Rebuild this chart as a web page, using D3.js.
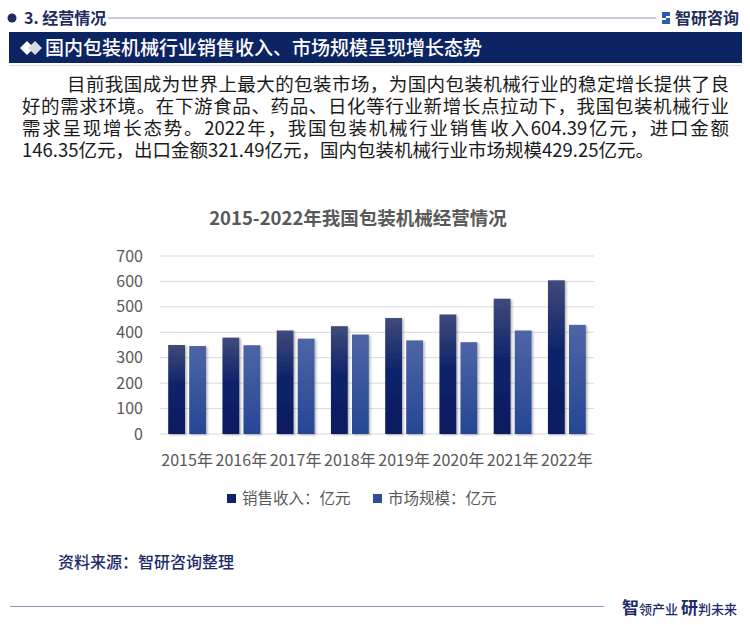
<!DOCTYPE html>
<html>
<head>
<meta charset="utf-8">
<script src="https://cdn.jsdelivr.net/npm/d3@7"></script>
<style>
  body { margin: 0; background: #fff; position: relative; }
  svg { display: block; font-family: "Noto Sans CJK SC", "Noto Sans", sans-serif; }
  #para { position: absolute; left: 22px; top: 72px; width: 707px;
    font-family: "Noto Sans CJK SC", sans-serif; font-size: 18.5px; line-height: 22px; color: #1a1a1a; }
  #para div { white-space: nowrap; height: 22px; }
  #para div.just { text-align: justify; text-align-last: justify; white-space: normal; }
</style>
</head>
<body>
<svg id="chart"></svg>
<div id="para"></div>
<script>
var years = ["2015年", "2016年", "2017年", "2018年", "2019年", "2020年", "2021年", "2022年"];
var sales = [350, 379, 407, 424, 456, 470, 532, 604.39];
var market = [346, 349, 375, 391, 368, 361, 407, 429.25];
var seriesNames = ["销售收入：亿元", "市场规模：亿元"];
var yTicks = [0, 100, 200, 300, 400, 500, 600, 700];
var paragraph = [
  "目前我国成为世界上最大的包装市场，为国内包装机械行业的稳定增长提供了良",
  "好的需求环境。在下游食品、药品、日化等行业新增长点拉动下，我国包装机械行业",
  "需求呈现增长态势。2022年，我国包装机械行业销售收入604.39亿元，进口金额",
  "146.35亿元，出口金额321.49亿元，国内包装机械行业市场规模429.25亿元。"
];

var width = 750,
  height = 625;

var svg = d3.select("#chart")
  .attr("width", width)
  .attr("height", height);

var defs = svg.append("defs");
var g1 = defs.append("linearGradient").attr("id", "gDark")
  .attr("x1", 0).attr("y1", 0).attr("x2", 0).attr("y2", 1);
g1.append("stop").attr("offset", "0%").attr("stop-color", "#404a7b");
g1.append("stop").attr("offset", "45%").attr("stop-color", "#0f246a");
g1.append("stop").attr("offset", "100%").attr("stop-color", "#0a1a5f");
var g2 = defs.append("linearGradient").attr("id", "gLight")
  .attr("x1", 0).attr("y1", 0).attr("x2", 0).attr("y2", 1);
g2.append("stop").attr("offset", "0%").attr("stop-color", "#4d65a6");
g2.append("stop").attr("offset", "100%").attr("stop-color", "#264694");
defs.append("filter").attr("id", "shadow")
  .attr("x", "-20%").attr("y", "-5%").attr("width", "150%").attr("height", "115%")
  .append("feDropShadow")
  .attr("dx", 1.5).attr("dy", 1).attr("stdDeviation", 1.2)
  .attr("flood-color", "#000").attr("flood-opacity", 0.3);

svg.append("rect").attr("width", width).attr("height", height).attr("fill", "#fff");

// header
svg.append("circle").attr("cx", 12).attr("cy", 18).attr("r", 4.5).attr("fill", "#1d2b5e");
svg.append("text").attr("x", 24).attr("y", 24).attr("font-size", 16).attr("font-weight", "bold")
  .attr("fill", "#1d2b5e").text("3. 经营情况");
svg.append("line").attr("x1", 108).attr("x2", 656).attr("y1", 18).attr("y2", 18)
  .attr("stroke", "#8f98b9").attr("stroke-width", 1);
svg.append("path").attr("d", "M662,12 h8 v4 h-4 v2 h4 v6 h-8 v-4 h4 v-2 h-4 z").attr("fill", "#2a5db0");
svg.append("text").attr("x", 675).attr("y", 24).attr("font-size", 16).attr("font-weight", "bold")
  .attr("fill", "#1d2b5e").text("智研咨询");

// banner
svg.append("rect").attr("x", 9).attr("y", 32).attr("width", 733).attr("height", 31).attr("fill", "#0d2463");
svg.append("line").attr("x1", 9).attr("x2", 742).attr("y1", 65.5).attr("y2", 65.5)
  .attr("stroke", "#d8dbe3").attr("stroke-width", 1);
svg.append("path").attr("d", "M20,48 l7,-7 l7,7 l-7,7 z").attr("fill", "#ffffff");
svg.append("path").attr("d", "M28,48 l7,-7 l7,7 l-7,7 z").attr("fill", "#d9dce6");
svg.append("text").attr("x", 45).attr("y", 55).attr("font-size", 19).attr("font-weight", 500)
  .attr("fill", "#fff").text("国内包装机械行业销售收入、市场规模呈现增长态势");

// paragraph (html lines, first three justified)
d3.select("#para").selectAll("div").data(paragraph).join("div")
  .attr("class", function(d, i) { return i < 3 ? "just" : null; })
  .style("padding-left", function(d, i) { return i === 0 ? "45px" : "0px"; })
  .text(function(d) { return d; });

// chart title
svg.append("text").attr("x", 358).attr("y", 225).attr("text-anchor", "middle")
  .attr("font-size", 18.5).attr("font-weight", "bold").attr("fill", "#595959")
  .text("2015-2022年我国包装机械经营情况");

var x0 = d3.scaleBand().domain(years).range([160, 594]);
var x1 = d3.scaleBand().domain([0, 1]).range([0, x0.bandwidth()])
  .paddingInner(0.2).paddingOuter(0.39);
var y = d3.scaleLinear().domain([0, 700]).range([434, 256]);

// gridlines
svg.append("g").selectAll("line").data(yTicks).join("line")
  .attr("x1", 160).attr("x2", 594)
  .attr("y1", function(d) { return y(d); })
  .attr("y2", function(d) { return y(d); })
  .attr("stroke", "#d9d9d9").attr("stroke-width", 1);

// y axis
var yAxis = svg.append("g").attr("transform", "translate(150,0)")
  .call(d3.axisLeft(y).tickValues(yTicks).tickSize(0).tickPadding(0));
yAxis.select(".domain").remove();
yAxis.selectAll("text").attr("font-size", 16).attr("fill", "#595959")
  .attr("font-family", "\"Noto Sans CJK SC\", sans-serif").attr("dx", -7);

// x axis
var xAxis = svg.append("g").attr("transform", "translate(0,434)")
  .call(d3.axisBottom(x0).tickSize(0).tickPadding(21));
xAxis.select(".domain").remove();
xAxis.selectAll("text").attr("font-size", 16).attr("fill", "#595959")
  .attr("font-family", "\"Noto Sans CJK SC\", sans-serif");

// bars
var fills = ["url(#gDark)", "url(#gLight)"];
var groups = svg.append("g").selectAll("g").data(years).join("g")
  .attr("transform", function(d) { return "translate(" + x0(d) + ",0)"; });
groups.selectAll("rect")
  .data(function(d, i) { return [sales[i], market[i]]; })
  .join("rect")
  .attr("x", function(d, j) { return x1(j); })
  .attr("y", function(d) { return y(d); })
  .attr("width", x1.bandwidth())
  .attr("height", function(d) { return y(0) - y(d); })
  .attr("fill", function(d, j) { return fills[j]; })
  .attr("filter", "url(#shadow)");

// legend
var legendX = [227, 373];
var legendColors = ["#0f236a", "#2e4c9a"];
var lg = svg.append("g").selectAll("g").data(seriesNames).join("g")
  .attr("transform", function(d, i) { return "translate(" + legendX[i] + ",494)"; });
lg.append("rect").attr("width", 9).attr("height", 9)
  .attr("fill", function(d, i) { return legendColors[i]; });
lg.append("text").attr("x", 15).attr("y", 9.5).attr("font-size", 15.5).attr("fill", "#595959")
  .text(function(d) { return d; });

// footer
svg.append("text").attr("x", 58).attr("y", 568).attr("font-size", 16).attr("font-weight", 500)
  .attr("fill", "#1d2b6a").text("资料来源：智研咨询整理");
svg.append("line").attr("x1", 10).attr("x2", 604).attr("y1", 606.5).attr("y2", 606.5)
  .attr("stroke", "#8f98b9").attr("stroke-width", 1);
var slogan = svg.append("text").attr("x", 622).attr("y", 614).attr("fill", "#1d2b6a").attr("font-weight", "bold");
slogan.append("tspan").attr("font-size", 17).text("智");
slogan.append("tspan").attr("font-size", 13).attr("font-weight", 500).text("领产业 ");
slogan.append("tspan").attr("font-size", 17).text("研");
slogan.append("tspan").attr("font-size", 13).attr("font-weight", 500).text("判未来");
</script>
</body>
</html>
